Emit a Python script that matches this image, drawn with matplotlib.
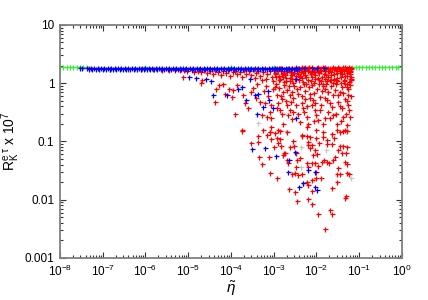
import numpy as np
import matplotlib
matplotlib.use("Agg")
import matplotlib.pyplot as plt
from matplotlib.ticker import LogLocator, FixedLocator, FixedFormatter, NullFormatter

plt.rcParams['font.family'] = ['Liberation Sans', 'DejaVu Sans']
plt.rcParams['mathtext.fontset'] = 'custom'
plt.rcParams['mathtext.rm'] = 'Liberation Sans'
plt.rcParams['mathtext.it'] = 'Liberation Sans:italic'

# green reference line (only ends visible)
green_eta = [1.0e-8, 1.2e-8, 1.45e-8, 1.7e-8, 2.05e-8, 2.45e-8, 2.95e-8, 3.55e-8, 4.2e-8,
             1e-6, 1e-4, 1e-3,
             0.069, 0.083, 0.1, 0.117, 0.141, 0.17, 0.2, 0.24, 0.29, 0.35, 0.41, 0.49,
             0.59, 0.71, 0.83, 1.0]
green_r = [1.88] * len(green_eta)

# blue band (two staggered rows)
blue_band_eta = [4.4e-8, 5.2e-8, 6.3e-8, 7.6e-8, 9.1e-8, 1.1e-7, 1.3e-7, 1.6e-7, 1.9e-7, 2.3e-7,
                 2.75e-7, 3.3e-7, 4e-7, 4.8e-7, 5.8e-7, 7e-7, 8.4e-7, 1e-6, 1.2e-6, 1.45e-6,
                 1.75e-6, 2.1e-6, 2.5e-6, 3e-6, 3.6e-6, 4.4e-6, 5.2e-6, 6.3e-6, 7.6e-6, 9.1e-6,
                 1.1e-5, 1.3e-5, 1.6e-5, 1.9e-5, 2.3e-5, 2.75e-5, 3.3e-5, 4e-5, 4.8e-5, 5.8e-5,
                 7e-5, 8.4e-5, 1e-4, 1.2e-4, 1.45e-4, 1.75e-4, 2.1e-4, 2.5e-4, 3e-4, 3.6e-4,
                 4.4e-4, 5.2e-4, 6.3e-4, 7.6e-4, 9.1e-4, 1.1e-3, 1.3e-3, 1.6e-3, 1.9e-3, 2.3e-3,
                 2.75e-3, 3.3e-3]
blue_band_r = [1.82] * len(blue_band_eta)
blue_band2_eta = [4.8e-8, 5.7e-8, 6.9e-8, 8.3e-8, 1e-7, 1.2e-7, 1.45e-7, 1.75e-7, 2.1e-7, 2.5e-7,
                  3e-7, 3.6e-7, 4.4e-7, 5.3e-7, 6.4e-7, 7.7e-7, 9.2e-7, 1.1e-6, 1.3e-6, 1.6e-6,
                  1.9e-6, 2.3e-6, 2.75e-6, 3.3e-6, 4e-6, 4.8e-6, 5.7e-6, 6.9e-6, 8.3e-6, 1e-5,
                  1.2e-5, 1.45e-5, 1.75e-5, 2.1e-5, 2.5e-5, 3e-5, 3.6e-5, 4.4e-5, 5.3e-5, 6.4e-5,
                  7.7e-5, 9.2e-5, 1.1e-4, 1.3e-4, 1.6e-4, 1.9e-4, 2.3e-4, 2.75e-4, 3.3e-4, 4e-4,
                  4.8e-4, 5.7e-4, 6.9e-4, 8.3e-4, 1e-3, 1.2e-3, 1.45e-3, 1.75e-3, 2.1e-3, 2.5e-3,
                  3e-3, 3.5e-3]
blue_band2_r = [1.77] * len(blue_band2_eta)

# blue scattered points
blue_eta = [2.9e-8, 3.3e-8, 4.0e-3, 5.0e-3, 7.7e-3, 1.05e-2, 1.5e-2,
            1.06e-5, 1.49e-5, 2.6e-5, 3.4e-5, 3.9e-5, 7.9e-5, 1.49e-4, 1.78e-4, 2.3e-4, 2.8e-4,
            3.6e-4, 4.4e-4, 5.7e-4, 4.1e-4, 7.5e-4, 7.9e-4, 9.8e-4, 3.3e-3, 3.4e-3,
            3.1e-4, 6.2e-4, 1.15e-3, 3.1e-3, 2.3e-3, 2.2e-3, 6.4e-3, 9.1e-3, 4.9e-3, 3.9e-3,
            9.2e-3, 1.05e-2]
blue_r = [1.83, 1.83, 1.84, 1.85, 1.85, 1.85, 1.85,
          1.28, 1.25, 1.2, 1.09, 0.62, 0.62, 0.81, 0.86, 0.51, 1.2,
          0.62, 0.66, 0.39, 0.30, 0.73, 0.51, 0.37, 1.17, 0.25,
          0.074, 0.078, 0.057, 0.065, 0.049, 0.030, 0.032, 0.030, 0.0197, 0.0168,
          0.0163, 0.0147]

# grey points
grey_eta = [4.4e-4, 1.83e-3, 2.7e-2, 2.3e-2, 1.73e-2, 1.9e-3, 2.3e-2, 4.3e-3, 1.64e-2, 4.3e-3,
            8.9e-3, 6.3e-2]
grey_r = [0.208, 0.86, 0.30, 0.136, 0.71, 0.150, 0.135, 0.079, 0.071, 0.036,
          0.0227, 0.0233]

# red: band just under the line
red_band_eta = [4.8e-8, 1.5e-7, 4e-7, 8e-7, 1.5e-6, 2.5e-6, 3.5e-6, 5e-6, 6.5e-6, 8e-6,
                9.5e-6, 1.2e-5, 1.4e-5, 1.7e-5, 2e-5, 2.3e-5, 2.8e-5, 3.2e-5, 3.8e-5, 4.3e-5,
                5e-5, 5.8e-5, 6.5e-5, 7.5e-5, 8.5e-5, 9.5e-5, 1.1e-4, 1.25e-4, 1.4e-4, 1.6e-4,
                1.8e-4, 2e-4, 2.3e-4, 2.6e-4, 3e-4, 3.4e-4, 3.8e-4, 4.3e-4, 4.9e-4, 5.5e-4,
                6.2e-4, 7e-4, 8e-4, 9e-4, 1e-3, 1.1e-3, 1.2e-3, 1.3e-3, 1.45e-3, 1.6e-3,
                1.75e-3, 1.9e-3, 2.1e-3, 2.3e-3, 2.5e-3, 2.7e-3, 3e-3, 3.2e-3, 3.5e-3, 3.8e-3,
                4.1e-3, 4.5e-3, 4.9e-3, 5.3e-3, 5.8e-3, 6.3e-3, 6.8e-3, 7.4e-3, 8e-3, 8.7e-3,
                9.5e-3, 1.03e-2, 1.12e-2, 1.22e-2, 1.33e-2, 1.45e-2, 1.58e-2, 1.72e-2, 1.87e-2, 2.03e-2,
                2.2e-2, 2.4e-2, 2.6e-2, 2.85e-2, 3.1e-2, 3.35e-2, 3.65e-2, 3.95e-2, 4.3e-2, 4.65e-2,
                5e-2, 5.4e-2, 5.8e-2, 6.2e-2, 6.5e-2,
                1.05e-3, 1.25e-3, 1.5e-3, 1.8e-3, 2.2e-3, 2.6e-3, 3.1e-3, 3.7e-3, 4.3e-3, 5.1e-3,
                6e-3, 7.1e-3, 8.3e-3, 9.1e-3, 1.08e-2, 1.28e-2, 1.5e-2, 1.65e-2, 1.95e-2, 2.3e-2,
                2.7e-2, 3e-2, 3.5e-2, 4e-2, 4.5e-2, 5.2e-2, 5.6e-2, 6e-2, 6.4e-2, 1.1e-2,
                2.1e-2, 4.7e-2, 3.2e-2, 1.6e-2, 6.6e-3, 4.6e-3, 6.3e-2, 6.4e-2, 5.9e-2, 5.3e-2,
                4.4e-2, 3.8e-2, 2.9e-2, 2.5e-2, 1.8e-2, 1.4e-2, 1.15e-2, 8.9e-3, 7.6e-3, 5.6e-3,
                4.8e-3, 3.9e-3, 2.8e-3, 2.4e-3, 1.7e-3, 1.35e-3, 9.5e-4, 6.8e-4, 5.2e-4, 3.6e-4]
red_band_r = [1.8, 1.76, 1.75, 1.74, 1.72, 1.7, 1.71, 1.68, 1.66, 1.7,
              1.62, 1.67, 1.58, 1.64, 1.55, 1.7, 1.5, 1.62, 1.45, 1.68,
              1.55, 1.38, 1.6, 1.48, 1.7, 1.35, 1.55, 1.65, 1.42, 1.58,
              1.3, 1.7, 1.45, 1.6, 1.38, 1.72, 1.5, 1.62, 1.33, 1.55,
              1.75, 1.42, 1.6, 1.28, 1.7, 1.5, 1.8, 1.35, 1.6, 1.45,
              1.75, 1.25, 1.55, 1.68, 1.4, 1.8, 1.5, 1.2, 1.62, 1.85,
              1.35, 1.72, 1.5, 1.88, 1.28, 1.65, 1.82, 1.42, 1.88, 1.58,
              1.2, 1.85, 1.48, 1.7, 1.3, 1.88, 1.6, 1.38, 1.8, 1.15,
              1.55, 1.88, 1.42, 1.72, 1.25, 1.85, 1.52, 1.68, 1.88, 1.35,
              1.78, 1.6, 1.88, 1.45, 1.85,
              1.42, 1.62, 1.82, 1.38, 1.85, 1.58, 1.75, 1.45, 1.58, 1.62,
              1.78, 1.55, 1.7, 1.4, 1.65, 1.82, 1.45, 1.75, 1.62, 1.72,
              1.85, 1.6, 1.75, 1.42, 1.62, 1.5, 1.72, 1.65, 1.75, 1.88,
              1.85, 1.88, 1.9, 1.9, 1.9, 1.9, 1.3, 1.2, 1.05, 0.98,
              1.08, 1.0, 1.12, 1.02, 1.08, 0.97, 1.12, 1.0, 1.1, 0.95,
              1.05, 1.12, 1.0, 1.1, 1.05, 1.15, 1.1, 1.2, 1.15, 1.25]
red_band2_eta = [1.15e-3, 1.4e-3, 1.65e-3, 1.95e-3, 2.35e-3, 2.75e-3, 3.3e-3, 3.9e-3, 4.7e-3, 5.5e-3,
                 6.5e-3, 7.8e-3, 9.3e-3, 1.1e-2, 1.3e-2, 1.55e-2, 1.85e-2, 2.2e-2, 2.6e-2, 3.1e-2,
                 3.7e-2, 4.4e-2, 5.2e-2, 6.1e-2,
                 1.15e-3, 1.4e-3, 1.65e-3, 1.95e-3, 2.35e-3, 2.75e-3, 3.3e-3, 3.9e-3, 4.7e-3, 5.5e-3,
                 6.5e-3, 7.8e-3, 9.3e-3, 1.1e-2, 1.3e-2, 1.55e-2, 1.85e-2, 2.2e-2, 2.6e-2, 3.1e-2,
                 3.7e-2, 4.4e-2, 5.2e-2, 6.1e-2]
red_band2_r = [1.3, 1.2, 1.5, 1.65, 1.25, 1.45, 1.35, 1.68, 1.25, 1.4,
               1.15, 1.3, 1.55, 1.25, 1.6, 1.2, 1.3, 1.4, 1.2, 1.5,
               1.3, 1.15, 1.35, 1.55,
               1.75, 1.85, 1.3, 1.1, 1.7, 1.2, 1.88, 1.3, 1.8, 1.7,
               1.85, 1.6, 1.78, 1.7, 1.1, 1.8, 1.65, 1.12, 1.75, 1.1,
               1.6, 1.7, 1.85, 1.2]

# red: scattered points below the band
red_eta = [7.7e-6, 1.95e-5, 2.06e-5, 4.2e-5, 4.6e-5, 5.3e-5, 6.4e-5, 7.2e-5, 9.1e-5, 1.04e-4,
           1.13e-4, 1.24e-4, 1.36e-4, 1.94e-4, 2.1e-4, 2.5e-4, 3.0e-4, 4.0e-4, 4.8e-4, 5.2e-4,
           6.2e-4, 7.1e-4, 8.2e-4, 8.9e-4, 1.07e-3, 1.17e-3, 1.28e-3, 1.4e-3, 1.53e-3, 1.67e-3,
           2.0e-3, 2.2e-3, 2.4e-3, 2.6e-3, 2.9e-3, 3.8e-3, 4.1e-3, 4.5e-3, 4.9e-3, 5.4e-3,
           5.9e-3, 6.4e-3, 7.0e-3, 7.7e-3, 8.4e-3, 9.2e-3, 1.0e-2, 1.1e-2, 1.2e-2, 1.3e-2,
           1.45e-2, 1.58e-2, 1.73e-2, 1.9e-2, 2.1e-2, 2.3e-2, 2.5e-2, 3.0e-2, 3.2e-2, 3.5e-2,
           3.9e-2, 4.2e-2, 4.6e-2, 5.1e-2, 5.6e-2, 6.1e-2, 6.3e-2, 5.6e-2, 5.1e-2, 1.78e-4,
           5.7e-4, 8.2e-4, 1.28e-3, 2.0e-3, 4.5e-3, 5.9e-3, 1.0e-2, 4.6e-2, 1.45e-2, 3.0e-2,
           1.67e-3, 8.9e-4,
           1.84e-4, 4.4e-4, 2.9e-4, 4.2e-4, 4.6e-4, 7.7e-4, 5.4e-4, 8.2e-4, 1.17e-3, 1.0e-3,
           1.5e-3, 1.77e-3, 1.67e-3, 2.4e-3, 2.9e-3, 3.0e-3, 3.3e-3, 2.1e-3, 2.2e-3, 3.4e-3,
           3.1e-3, 3.8e-3, 2.7e-3, 5.9e-3, 4.7e-3, 7.0e-3, 6.4e-3, 7.0e-3, 8.1e-3, 9.2e-3,
           1.05e-2, 8.4e-3, 8.1e-3, 9.2e-3, 1.1e-2, 5.9e-3, 6.4e-3, 1.0e-2, 7.7e-3, 6.4e-3,
           7.7e-3, 1.0e-2, 1.3e-2, 1.37e-2, 1.73e-2, 1.5e-2, 1.96e-2, 2.5e-2, 2.7e-2, 3.2e-2,
           3.5e-2, 4.2e-2, 5.1e-2, 4.9e-2, 3.9e-2, 4.6e-2, 5.1e-2, 3.2e-2, 3.0e-2, 3.5e-2,
           5.1e-2, 5.9e-2, 3.1e-2, 2.3e-2, 4.9e-2, 4.6e-2, 1.73e-2, 2.3e-2, 2.6e-2, 1.45e-2,
           1.76e-2, 1.14e-2, 9.7e-3, 6.2e-3, 4.2e-2, 5.3e-2, 3.5e-2, 2.3e-2, 2.3e-3, 3.1e-3,
           3.6e-3, 6.4e-3, 8.0e-3, 1.1e-2, 2.1e-2, 2.3e-2, 1.58e-2, 1.4e-3, 1.07e-3, 8.2e-4,
           1.4e-3, 7.1e-4, 8.9e-4, 1.17e-3, 1.28e-3, 1.87e-3, 3.5e-3, 4.1e-3, 4.5e-3, 4.9e-3,
           5.9e-3,
           3.3e-4, 3.9e-4, 5.8e-4, 6.6e-4, 7.5e-4, 8.6e-4, 9.5e-4, 1.12e-3, 1.22e-3, 1.35e-3,
           1.48e-3, 1.6e-3, 1.75e-3, 1.9e-3, 2.05e-3, 2.25e-3, 2.45e-3, 2.65e-3, 2.85e-3, 3.05e-3,
           3.3e-3, 3.55e-3, 3.8e-3, 4.2e-3, 4.6e-3, 5e-3, 5.5e-3, 6e-3, 6.6e-3, 7.2e-3,
           7.9e-3, 8.6e-3, 9.4e-3, 1.02e-2, 1.12e-2, 1.22e-2, 1.33e-2, 1.45e-2, 1.58e-2, 1.72e-2,
           1.88e-2, 2.05e-2, 2.25e-2, 2.45e-2, 2.7e-2, 2.95e-2, 3.25e-2, 3.55e-2, 3.9e-2, 4.25e-2,
           4.65e-2, 5.1e-2, 5.5e-2, 6e-2, 6.3e-2, 5.8e-2, 4.8e-2, 3.7e-2, 2.8e-2, 1.6e-2,
           8.9e-3, 5.2e-3, 2.7e-3]
red_r = [1.28, 1.02, 1.12, 0.48, 0.81, 0.92, 0.98, 0.66, 0.81, 0.58,
         0.76, 0.30, 0.92, 0.62, 0.45, 0.37, 0.71, 0.98, 0.48, 0.28,
         0.45, 0.26, 0.32, 0.25, 0.86, 0.62, 0.45, 0.34, 0.54, 0.71,
         0.42, 0.28, 0.62, 0.48, 0.32, 0.66, 0.216, 0.45, 0.37, 0.54,
         0.26, 0.202, 0.66, 0.42, 0.51, 0.34, 0.28, 0.23, 0.58, 0.42,
         0.202, 0.81, 0.51, 0.32, 0.25, 0.39, 0.62, 0.202, 0.48, 0.71,
         0.37, 0.26, 0.54, 0.86, 0.42, 0.26, 1.12, 0.62, 0.19, 0.156,
         0.156, 0.146, 0.156, 0.146, 0.128, 0.177, 0.156, 0.156, 0.146, 0.156,
         0.202, 0.177,
         0.153, 0.124, 0.095, 0.098, 0.054, 0.054, 0.041, 0.029, 0.024, 0.079,
         0.084, 0.064, 0.059, 0.081, 0.103, 0.084, 0.063, 0.049, 0.042, 0.037,
         0.029, 0.027, 0.028, 0.124, 0.124, 0.121, 0.087, 0.076, 0.087, 0.070,
         0.061, 0.059, 0.042, 0.042, 0.038, 0.042, 0.037, 0.030, 0.022, 0.018,
         0.014, 0.024, 0.024, 0.045, 0.045, 0.048, 0.042, 0.049, 0.055, 0.070,
         0.084, 0.084, 0.081, 0.063, 0.063, 0.045, 0.041, 0.035, 0.028, 0.028,
         0.029, 0.028, 0.020, 0.0157, 0.0116, 0.0106, 0.091, 0.091, 0.113, 0.121,
         0.106, 0.093, 0.115, 0.099, 0.153, 0.151, 0.148, 0.133, 0.0151, 0.0138,
         0.0095, 0.0102, 0.0085, 0.0058, 0.0067, 0.0058, 0.0031, 0.109, 0.142, 0.148,
         0.153, 0.129, 0.109, 0.113, 0.093, 0.064, 0.048, 0.053, 0.028, 0.0196,
         0.020,
         0.82, 0.55, 0.72, 0.9, 0.6, 0.42, 0.78, 0.95, 0.38, 0.82,
         0.6, 0.3, 0.92, 0.5, 0.75, 0.88, 0.35, 0.7, 0.55, 0.9,
         0.42, 0.78, 0.3, 0.85, 0.6, 0.95, 0.72, 0.4, 0.85, 0.55,
         0.92, 0.68, 0.45, 0.8, 0.95, 0.35, 0.72, 0.9, 0.55, 0.95,
         0.7, 0.45, 0.88, 0.28, 0.75, 0.95, 0.62, 0.4, 0.85, 0.68,
         0.95, 0.5, 0.78, 0.92, 0.6, 0.35, 0.3, 0.22, 0.3, 0.25,
         0.22, 0.32, 0.24]

fig = plt.figure(figsize=(4.28, 3.0), dpi=100)
ax = fig.add_axes([0.140, 0.14, 0.799, 0.777])

mk = dict(linestyle='none', marker='+', markersize=3.6, markeredgewidth=0.9)
ax.plot(green_eta, green_r, color='#33ee33', **mk)
ax.plot(grey_eta, grey_r, color='#c8c8c8', **mk)
ax.plot(red_band_eta, red_band_r, color='#ff0000', **mk)
ax.plot(red_band2_eta, red_band2_r, color='#ff0000', **mk)
ax.plot(blue_band_eta, blue_band_r, color='#0000ff', **mk)
ax.plot(blue_band2_eta, blue_band2_r, color='#0000ff', **mk)
ax.plot(red_eta, red_r, color='#ff0000', **mk)
ax.plot(blue_eta, blue_r, color='#0000ff', **mk)

ax.set_xscale('log')
ax.set_yscale('log')
ax.set_xlim(1e-8, 1)
ax.set_ylim(1e-3, 10)

ax.xaxis.set_major_locator(LogLocator(base=10, numticks=20))
ax.xaxis.set_minor_locator(LogLocator(base=10, subs=np.arange(2, 10), numticks=20))
ax.xaxis.set_minor_formatter(NullFormatter())
ax.yaxis.set_major_locator(FixedLocator([0.001, 0.01, 0.1, 1, 10]))
ax.yaxis.set_major_formatter(FixedFormatter(['0.001', '0.01', '0.1', '1', '10']))
ax.yaxis.set_minor_locator(LogLocator(base=10, subs=np.arange(2, 10), numticks=20))
ax.yaxis.set_minor_formatter(NullFormatter())

ax.tick_params(which='both', direction='in', top=True, right=True, labelsize=8.5,
               color='#333333', width=0.8)
ax.tick_params(which='major', length=4, pad=4)
ax.tick_params(which='minor', length=2)
for s in ax.spines.values():
    s.set_color('#808080')
    s.set_linewidth(1.3)

ax.set_xlabel(r'$\tilde{\eta}$', fontsize=11, labelpad=0)
ax.set_ylabel(r'$\mathregular{R_K^{e\ \tau}}$ x 10$^\mathregular{7}$', fontsize=10)
ax.yaxis.set_label_coords(-0.112, 0.5)

fig.savefig('out.png', dpi=100)
